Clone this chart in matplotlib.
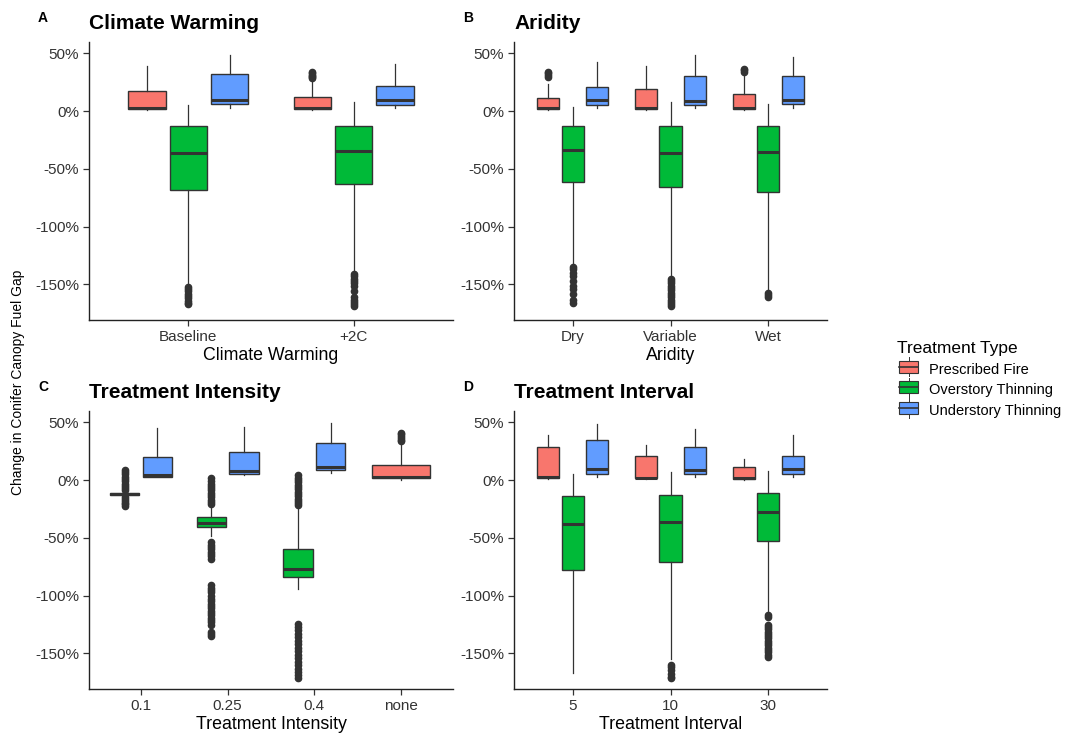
import matplotlib
matplotlib.use("Agg")
import matplotlib.pyplot as plt
from matplotlib.patches import Rectangle, Patch
from matplotlib.lines import Line2D
from matplotlib.legend_handler import HandlerPatch
from matplotlib.ticker import FuncFormatter

plt.rcParams['font.family'] = ['Liberation Sans', 'DejaVu Sans']

treatments = ["Prescribed Fire", "Overstory Thinning", "Understory Thinning"]
colors = ["#F8766D", "#00BA38", "#619CFF"]

# box stats per category: [whislo, q1, med, q3, whishi] in %, None = not present
# A - climate warming
a_cats = ["Baseline", "+2C"]
a_fire = [[0.9, 1.4, 2.6, 17.5, 38.8], [0.5, 1.4, 2.3, 11.8, 26.7]]
a_fire_out = [[], [28.2, 29.5, 30.5, 31.5, 32.5, 33.9]]
a_over = [[-151, -68.7, -35.9, -12.9, 5.2], [-140, -62.9, -34.5, -12.9, 8.0]]
a_over_out = [[-152, -154, -156, -158, -160, -162, -164, -166, -167],
              [-141, -143, -145, -147, -149, -151, -156, -161, -163, -165, -167, -169]]
a_under = [[2.3, 5.7, 9.5, 31.9, 48.3], [2.9, 5.2, 9.5, 21.8, 40.5]]
a_under_out = [[], []]

# B - aridity
b_cats = ["Dry", "Variable", "Wet"]
b_fire = [[0.8, 1.4, 2.6, 10.9, 23.0], [0.8, 1.4, 2.3, 18.7, 38.8], [0.8, 1.4, 2.6, 14.4, 33.0]]
b_fire_out = [[29.5, 31, 32.5, 34], [], [34, 35.5, 36.5]]
b_over = [[-134, -61.5, -33.3, -12.9, 3.2], [-144, -65.8, -36.5, -12.9, 8.0], [-155, -70.4, -35.6, -12.6, 6.0]]
b_over_out = [[-135, -137, -140, -143, -147, -151, -154, -158, -163, -166],
              [-145, -147, -149, -151, -153, -155, -157, -159, -161, -163, -165, -167, -169],
              [-157, -159, -161]]
b_under = [[2.5, 5.2, 9.5, 20.4, 42.2], [2.5, 5.2, 8.9, 30.5, 48.3], [2.5, 5.7, 9.8, 30.7, 46.3]]
b_under_out = [[], [], []]

# C - treatment intensity
c_cats = ["0.1", "0.25", "0.4", "none"]
c_fire = [None, None, None, [0.0, 1.4, 2.3, 13.0, 32.5]]
c_fire_out = [[], [], [], [33.5, 35, 36.5, 38, 39.5, 41]]
c_over = [[-13.5, -13, -12, -11, -10.5], [-48, -40.3, -37.5, -31.7, -21], [-94, -83.6, -77, -59.7, -23.6], None]
c_over_out = [[-22.5, -21, -19.5, -18, -16.5, -15, -9, -7, -5, -3, -1, 1, 3, 5, 7, 9],
              [1.4, -1, -3, -5, -7, -9, -11, -13, -15, -17, -19, -20.5,
               -54, -56, -58, -60, -62, -64, -66, -68,
               -91, -93, -95, -97, -100, -103, -105, -107, -109, -111, -113, -115,
               -117, -119, -121, -123, -125, -131, -133, -135],
              [4.3, 2, 0, -2, -4, -6, -8, -10, -12, -14, -16, -18, -20, -21.6,
               -124.5, -127, -130, -133, -136, -139, -142, -145, -148, -151, -154,
               -157, -160, -163, -166, -169, -171],
              []]
c_under = [[2.3, 2.9, 4.3, 19.6, 44.7], [4.0, 5.2, 7.8, 24.5, 46.0], [5.8, 8.6, 11.2, 32.3, 49.0], None]
c_under_out = [[], [], [], []]

# D - treatment interval
d_cats = ["5", "10", "30"]
d_fire = [[0.6, 1.4, 2.9, 28.8, 38.9], [0.6, 1.4, 2.0, 20.7, 30.0], [0.3, 0.6, 1.4, 11.2, 18.4]]
d_fire_out = [[], [], []]
d_over = [[-167, -78.1, -38.3, -13.5, 5.2], [-155, -71.2, -36.0, -12.7, 6.6], [-115, -52.7, -28.0, -11.0, 8.0]]
d_over_out = [[], [-160, -162, -164, -168, -170, -171.5],
              [-117, -118.5, -125, -127, -129, -131, -133, -135, -137, -139, -141, -143, -145, -147, -149, -151, -153]]
d_under = [[2.3, 5.5, 9.5, 34.3, 48.4], [2.3, 4.9, 8.9, 28.2, 43.8], [2.3, 4.9, 9.2, 20.7, 38.6]]
d_under_out = [[], [], []]

panels = [
    ("A", "Climate Warming", a_cats, [a_fire, a_over, a_under], [a_fire_out, a_over_out, a_under_out]),
    ("B", "Aridity", b_cats, [b_fire, b_over, b_under], [b_fire_out, b_over_out, b_under_out]),
    ("C", "Treatment Intensity", c_cats, [c_fire, c_over, c_under], [c_fire_out, c_over_out, c_under_out]),
    ("D", "Treatment Interval", d_cats, [d_fire, d_over, d_under], [d_fire_out, d_over_out, d_under_out]),
]

W, H = 1070, 736
fig = plt.figure(figsize=(W / 100, H / 100), dpi=100)

# axes boxes in pixels: left, top, right, bottom
boxes = [(89, 42, 453, 320), (514, 42, 827, 320), (89, 411, 453, 689), (514, 411, 827, 689)]
EDGE = "#333333"

for (tag, title, cats, series, outs), (l, t, r, b) in zip(panels, boxes):
    ax = fig.add_axes([l / W, 1 - b / H, (r - l) / W, (b - t) / H])
    for ci in range(len(cats)):
        present = [k for k in range(3) if series[k][ci] is not None]
        n = len(present)
        slot = 0.75 / n
        for j, k in enumerate(present):
            lo, q1, med, q3, hi = series[k][ci]
            pos = ci + 1 + (j - (n - 1) / 2) * slot
            st = dict(whislo=lo, q1=q1, med=med, q3=q3, whishi=hi, fliers=outs[k][ci])
            ax.bxp([st], positions=[pos], widths=slot * 0.9, patch_artist=True,
                   showcaps=False,
                   boxprops=dict(facecolor=colors[k], edgecolor=EDGE, linewidth=1.0),
                   medianprops=dict(color=EDGE, linewidth=2.2),
                   whiskerprops=dict(color=EDGE, linewidth=0.9),
                   flierprops=dict(marker="o", markersize=4.5, markerfacecolor=EDGE,
                                   markeredgecolor=EDGE, linestyle="none"),
                   zorder=3)
    ax.set_xlim(0.4, len(cats) + 0.6)
    ax.set_ylim(-180.7, 59.7)
    ax.set_xticks(range(1, len(cats) + 1))
    ax.set_xticklabels(cats)
    ax.set_yticks([50, 0, -50, -100, -150])
    ax.yaxis.set_major_formatter(FuncFormatter(lambda v, p: f"{v:.0f}%"))
    for s in ["top", "right"]:
        ax.spines[s].set_visible(False)
    for s in ["left", "bottom"]:
        ax.spines[s].set_color("#222222")
        ax.spines[s].set_linewidth(1.0)
    ax.tick_params(length=4, width=0.9, color="#333333", labelsize=11,
                   labelcolor="#333333", pad=3)
    ax.set_xlabel(title, fontsize=12.8, labelpad=2.5)
    ax.set_title(title, loc="left", fontsize=15, fontweight="bold", pad=9)
    fig.text((l - 51) / W, 1 - (t - 24) / H, tag, fontsize=10, fontweight="bold",
             ha="left", va="center")

fig.text(18 / W, 1 - 382 / H, "Change in Conifer Canopy Fuel Gap", rotation=90,
         fontsize=10, ha="center", va="center")


class BoxKey(HandlerPatch):
    def create_artists(self, legend, orig, xd, yd, w, h, fontsize, trans):
        cx = xd + w / 2
        rect = Rectangle((xd + w * 0.1, yd + h * 0.0), w * 0.8, h * 1.0,
                         facecolor=orig.get_facecolor(), edgecolor=EDGE, linewidth=0.8,
                         transform=trans)
        mid = Line2D([xd + w * 0.1, xd + w * 0.9], [yd + h / 2, yd + h / 2],
                     color=EDGE, linewidth=1.2, transform=trans)
        wl = Line2D([cx, cx], [yd - h * 0.3, yd + h * 1.3], color=EDGE, linewidth=0.7,
                    transform=trans)
        return [wl, rect, mid]


handles = [Patch(facecolor=c, edgecolor=EDGE) for c in colors]
leg = fig.legend(handles, treatments, title="Treatment Type", loc="upper left",
                 bbox_to_anchor=(884 / W, 1 - 328 / H), frameon=False, fontsize=10.5,
                 title_fontsize=12.5, handler_map={Patch: BoxKey()}, handlelength=1.6,
                 handleheight=0.9, handletextpad=0.6, labelspacing=0.45)
leg._legend_box.align = "left"

fig.savefig("out.png", dpi=100)
